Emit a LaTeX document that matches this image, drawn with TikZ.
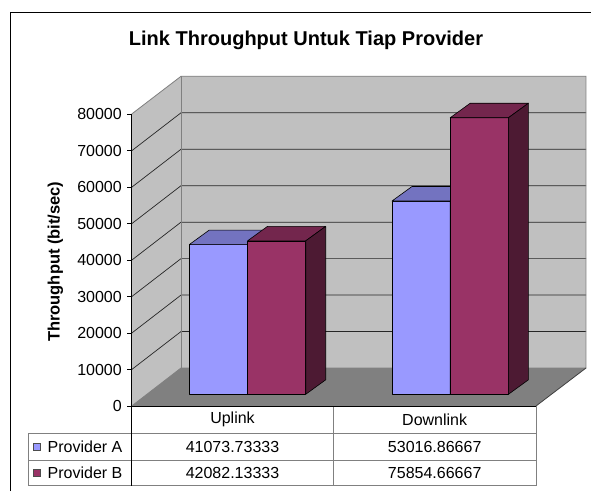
\documentclass[tikz,border=0pt]{standalone}
\usepackage{fontspec}
\setmainfont{Liberation Sans}
\definecolor{wallgray}{HTML}{C0C0C0}
\definecolor{floorgray}{HTML}{808080}
\definecolor{edgegray}{HTML}{808080}
\definecolor{provAfront}{HTML}{9999FF}
\definecolor{provAtop}{HTML}{7373C0}
\definecolor{provAside}{HTML}{4D4D80}
\definecolor{provBfront}{HTML}{993366}
\definecolor{provBtop}{HTML}{73264D}
\definecolor{provBside}{HTML}{4D1A33}
\tikzset{
  barline/.style={draw=black, line width=0.6pt, line join=round},
  gridline/.style={draw=black!85, line width=0.7pt},
  walledge/.style={draw=edgegray, line width=0.8pt},
  tableline/.style={draw=edgegray, line width=0.8pt},
  axisline/.style={draw=black, line width=0.8pt},
  ticklabel/.style={anchor=east, inner sep=0pt},
  cell/.style={inner sep=0pt},
}
% 3D bar: #1 front-left x, #2 value in units of 10000, #3 front, #4 top, #5 side colour
\newcommand\chartbar[5]{%
  \pgfmathsetmacro\barTop{394.3-#2*36.46}%
  \pgfmathsetmacro\barRight{#1+58.2}%
  \filldraw[barline, fill=#3] (#1,394.3) rectangle (\barRight,\barTop);
  \filldraw[barline, fill=#4] (#1,\barTop) -- ++(20,-14.5) -- ++(58.2,0) -- (\barRight,\barTop) -- cycle;
  \filldraw[barline, fill=#5] (\barRight,\barTop) -- ++(20,-14.5) -- ({\barRight+20},379.8) -- (\barRight,394.3) -- cycle;
}
\begin{document}
\begin{tikzpicture}[x=1pt,y=-1pt,font=\fontsize{16}{19}\selectfont]
\useasboundingbox (0,0) rectangle (591,491);
\fill[white] (0,0) rectangle (591,491);
% outer frame
\draw[black, line width=1pt] (10.5,491) -- (10.5,12.5) -- (591,12.5);

% title
\node[font=\fontsize{20}{24}\selectfont\bfseries] (title) at (306,40) {Link Throughput Untuk Tiap Provider};

% walls and floor
\fill[wallgray] (131.7,406) -- (181,368) -- (181,76.3) -- (131.7,114) -- cycle;
\fill[wallgray] (181,76.3) rectangle (586,368);
\fill[floorgray] (131.7,406) -- (181,368) -- (586,368) -- (536,406) -- cycle;

% grid lines
\foreach \k in {1,...,7}
  \draw[gridline] (131.7,{406-\k*36.46}) -- (181,{368-\k*36.46}) -- (586,{368-\k*36.46});

% wall edges
\draw[walledge] (131.7,114) -- (181,76.3) -- (586,76.3) -- (586,368);
\draw[walledge] (181,76.3) -- (181,368);
\draw[walledge] (131.7,406) -- (181,368) -- (586,368);
\draw[draw=black!75, line width=0.8pt] (536,406) -- (586,368);

% bars
\chartbar{189.3}{4.107373333}{provAfront}{provAtop}{provAside}
\chartbar{247.5}{4.208213333}{provBfront}{provBtop}{provBside}
\chartbar{392}{5.301686667}{provAfront}{provAtop}{provAside}
\chartbar{450.2}{7.585466667}{provBfront}{provBtop}{provBside}

% data table
\draw[tableline] (28.3,433.3) -- (536,433.3);
\draw[tableline] (28.3,460.7) -- (536,460.7);
\draw[tableline] (28.3,485.5) -- (536,485.5);
\draw[tableline] (28.3,433.3) -- (28.3,485.5);
\draw[tableline] (333.3,406) -- (333.3,485.5);
\draw[tableline] (536,406) -- (536,485.5);

% value axis and floor front edge
\draw[axisline] (131.7,406) -- (536,406);
\draw[axisline] (131.7,114) -- (131.7,485.5);
\foreach \k in {0,...,8} {
  \draw[axisline] (127,{406-\k*36.46}) -- (131.7,{406-\k*36.46});
  \node[ticklabel] (tick\k) at (122,{406-\k*36.46}) {\ifnum\k=0 0\else\k0000\fi};
}

% axis title
\node[font=\fontsize{16.5}{20}\selectfont\bfseries, rotate=90] (ytitle) at (55.5,261.7) {Throughput (bit/sec)};

% table contents
\node[cell] (catup) at (232.5,419.7) {Uplink};
\node[cell] (catdown) at (434.7,419.7) {Downlink};
\filldraw[fill=provAfront, draw=black!70, line width=0.5pt] (33.3,443.3) rectangle (40.7,450.7);
\filldraw[fill=provBfront, draw=black!70, line width=0.5pt] (33.3,469.3) rectangle (40.7,476.7);
\node[cell, anchor=west] (legA) at (47.5,447) {Provider A};
\node[cell, anchor=west] (legB) at (47.5,473.1) {Provider B};
\node[cell] (aup) at (232.5,447) {41073.73333};
\node[cell] (adown) at (434.7,447) {53016.86667};
\node[cell] (bup) at (232.5,473.1) {42082.13333};
\node[cell] (bdown) at (434.7,473.1) {75854.66667};
\end{tikzpicture}
\end{document}
